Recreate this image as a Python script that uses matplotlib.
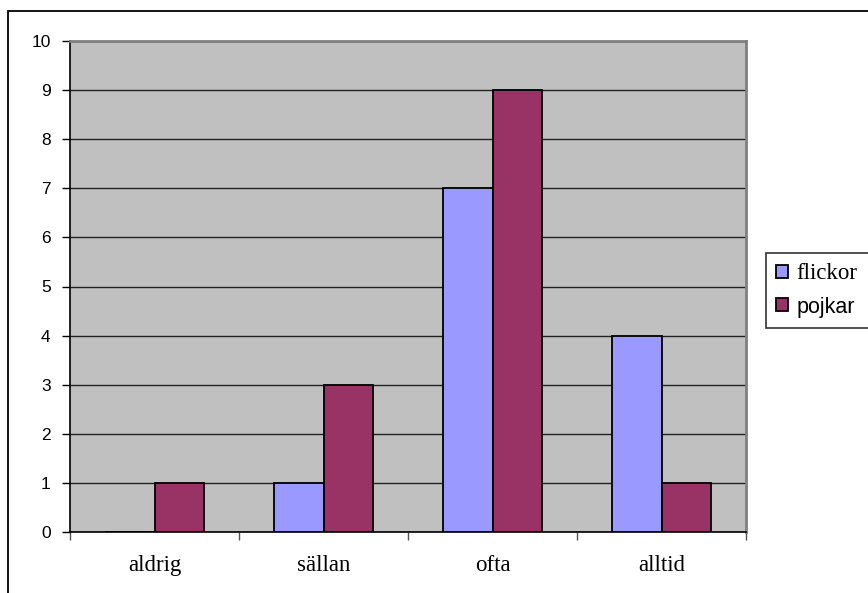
import numpy as np
import matplotlib
matplotlib.use('Agg')
import matplotlib.pyplot as plt
from matplotlib.patches import Rectangle

categories = ['aldrig', 'sällan', 'ofta', 'alltid']
flickor = [0, 1, 7, 4]
pojkar = [1, 3, 9, 1]
series_names = ['flickor', 'pojkar']
yticks = list(range(0, 11))

fig = plt.figure(figsize=(8.68, 5.93), dpi=100)
fig.patch.set_facecolor('white')

# outer chart frame (left and top edges visible)
frame = Rectangle((8 / 868, -0.05), 1.2, 582 / 593 + 0.05, transform=fig.transFigure,
                  fill=False, edgecolor='black', linewidth=1.3)
fig.patches.append(frame)

ax = fig.add_axes([70 / 868, 61 / 593, 676 / 868, 491 / 593])
ax.set_facecolor('#C0C0C0')

x = np.arange(len(categories)) + 0.5
w = 0.293
ax.bar(x - w / 2, flickor, w, color='#9999FF', edgecolor='black', linewidth=1.3,
       label=series_names[0], zorder=3)
ax.bar(x + w / 2, pojkar, w, color='#993366', edgecolor='black', linewidth=1.3,
       label=series_names[1], zorder=3)

ax.set_xlim(0, len(categories))
ax.set_ylim(0, 10)
ax.set_yticks(yticks)
ax.yaxis.grid(True, color='#222222', linewidth=1.0, zorder=1)
ax.set_axisbelow(True)

ax.set_xticks(np.arange(len(categories) + 1))
ax.set_xticklabels([])
ax.set_xticks(x, minor=True)
ax.set_xticklabels(categories, minor=True, fontfamily='Liberation Serif', fontsize=16.5)
ax.tick_params(axis='x', which='major', length=6, width=1, color='#555555', direction='out')
ax.tick_params(axis='x', which='minor', length=0, pad=16.5)
ax.tick_params(axis='y', length=6, width=1, color='black', direction='out', pad=8)
for lbl in ax.get_yticklabels():
    lbl.set_fontfamily('Liberation Sans')
    lbl.set_fontsize(12.5)

ax.spines['left'].set_color('black')
ax.spines['left'].set_linewidth(1.2)
ax.spines['bottom'].set_color('black')
ax.spines['bottom'].set_linewidth(1.2)
for s in ('top', 'right'):
    ax.spines[s].set_color('#808080')
    ax.spines[s].set_linewidth(2)

leg = fig.legend(loc='upper left',
                 bbox_to_anchor=(766 / 868, 1 - 253 / 593, 120 / 868, 0.0),
                 mode='expand', borderaxespad=0, frameon=True, fancybox=False,
                 edgecolor='black', handlelength=0.52, handleheight=0.52,
                 handletextpad=0.35, borderpad=0.45, labelspacing=0.55, fontsize=16.5)
leg.get_frame().set_linewidth(1.2)
texts = leg.get_texts()
texts[0].set_fontfamily('Liberation Serif')
texts[1].set_fontfamily('Liberation Sans')
texts[1].set_fontsize(15.5)

fig.savefig('out.png', dpi=100)
